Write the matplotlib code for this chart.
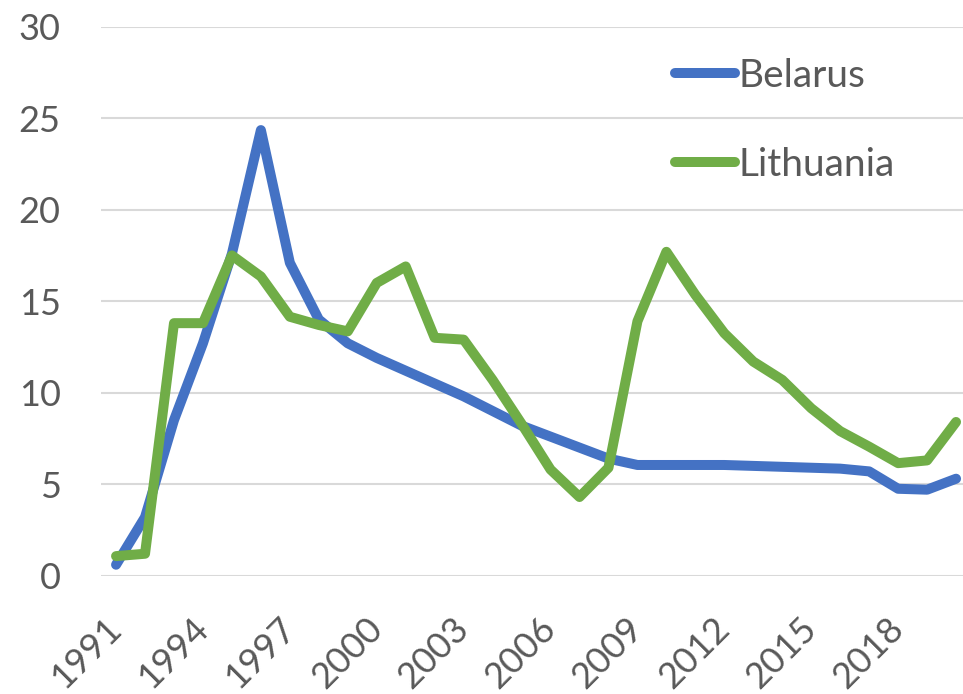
import matplotlib

matplotlib.use("Agg")
import matplotlib.pyplot as plt
from matplotlib.transforms import ScaledTranslation

years = list(range(1991, 2021))
belarus = [0.6, 3.2, 8.5, 12.7, 17.6, 24.35, 17.1, 14.0, 12.7, 11.9,
           11.2, 10.5, 9.8, 9.0, 8.2, 7.6, 7.0, 6.4, 6.05, 6.05,
           6.05, 6.05, 6.0, 5.95, 5.9, 5.85, 5.7, 4.75, 4.7, 5.3]
lithuania = [1.07, 1.2, 13.8, 13.8, 17.5, 16.35, 14.15, 13.7, 13.35, 16.0,
             16.9, 13.0, 12.9, 10.7, 8.3, 5.8, 4.3, 5.9, 13.9, 17.7,
             15.35, 13.25, 11.7, 10.7, 9.15, 7.9, 7.05, 6.15, 6.3, 8.4]
tick_years = list(range(1991, 2020, 3))
y_ticks = [0, 5, 10, 15, 20, 25, 30]

plt.rcParams["font.family"] = ["Lato", "DejaVu Sans"]
text_color = "#595959"

fig = plt.figure(figsize=(9.63, 6.94), dpi=100)
ax = fig.add_axes([101 / 963, (694 - 575.7) / 694, 1 - 101 / 963, (575.7 - 26.7) / 694])

ax.plot(years, belarus, color="#4472C4", lw=7.2, solid_joinstyle="round",
        solid_capstyle="round", label="Belarus", zorder=3)
ax.plot(years, lithuania, color="#70AD47", lw=7.2, solid_joinstyle="round",
        solid_capstyle="round", label="Lithuania", zorder=4)

ax.set_xlim(1990.48, 2020.24)
ax.set_ylim(0, 30)
ax.set_yticks(y_ticks)
ax.set_xticks(tick_years)
ax.set_xticklabels([str(y) for y in tick_years], rotation=45, ha="right",
                   va="center", rotation_mode="anchor")
for lbl in ax.get_xticklabels():
    lbl.set_transform(lbl.get_transform() + ScaledTranslation(0.08, 0, fig.dpi_scale_trans))

ax.tick_params(axis="both", length=0, labelsize=26, colors=text_color)
ax.tick_params(axis="y", pad=29)
ax.tick_params(axis="x", pad=34)
ax.grid(axis="y", color="#D9D9D9", lw=1.5)
ax.set_axisbelow(True)
for s in ax.spines.values():
    s.set_visible(False)

leg = ax.legend(loc="upper left", bbox_to_anchor=(675 / 963, 1 - 58 / 694),
                bbox_transform=fig.transFigure, frameon=False, fontsize=28,
                handlelength=1.54, handletextpad=0.08, labelspacing=1.35,
                borderpad=0, borderaxespad=0)
for t in leg.get_texts():
    t.set_color(text_color)

fig.savefig("out.png", dpi=100)
